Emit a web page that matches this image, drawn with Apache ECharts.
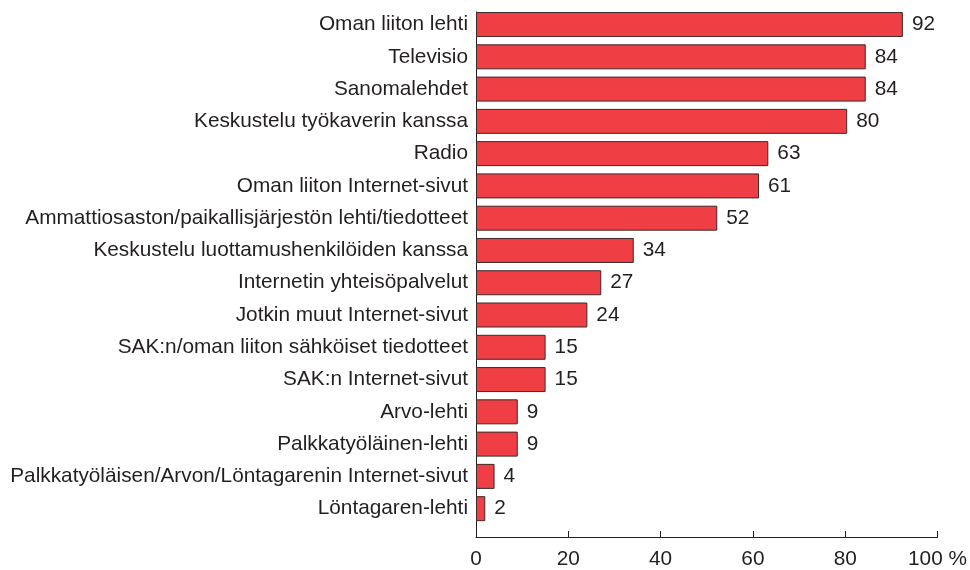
<!DOCTYPE html>
<html>
<head>
<meta charset="utf-8">
<script src="https://cdn.jsdelivr.net/npm/echarts@6/dist/echarts.min.js"></script>
<style>
  html, body { margin: 0; padding: 0; background: #fff; }
  #chart { width: 970px; height: 570px; }
</style>
</head>
<body>
<div id="chart"></div>
<script>
// categories top to bottom
var categories = [
    'Oman liiton lehti',
    'Televisio',
    'Sanomalehdet',
    'Keskustelu työkaverin kanssa',
    'Radio',
    'Oman liiton Internet-sivut',
    'Ammattiosaston/paikallisjärjestön lehti/tiedotteet',
    'Keskustelu luottamushenkilöiden kanssa',
    'Internetin yhteisöpalvelut',
    'Jotkin muut Internet-sivut',
    'SAK:n/oman liiton sähköiset tiedotteet',
    'SAK:n Internet-sivut',
    'Arvo-lehti',
    'Palkkatyöläinen-lehti',
    'Palkkatyöläisen/Arvon/Löntagarenin Internet-sivut',
    'Löntagaren-lehti'
];
var values = [92, 84, 84, 80, 63, 61, 52, 34, 27, 24, 15, 15, 9, 9, 4, 2];
var xTicks = [0, 20, 40, 60, 80, 100];

var font = '"Liberation Sans", Arial, sans-serif';
var textColor = '#231f20';
var fs = 20.8;

var chart = echarts.init(document.getElementById('chart'));
var option = {
    animation: false,
    textStyle: { fontFamily: font },
    grid: [
        // bars
        { left: 476, right: 30, top: 8.4, bottom: 45.2 },
        // axis frame
        { left: 476, right: 30, top: 12, bottom: 32 }
    ],
    xAxis: [
        { gridIndex: 0, type: 'value', min: 0, max: 100, show: false },
        {
            gridIndex: 1,
            type: 'value',
            min: xTicks[0],
            max: xTicks[xTicks.length - 1],
            interval: 20,
            axisLine: { show: true, lineStyle: { color: textColor, width: 1 } },
            axisTick: { show: true, inside: true, length: 6, lineStyle: { color: textColor } },
            splitLine: { show: false },
            axisLabel: {
                margin: 12,
                fontSize: fs,
                color: textColor,
                fontFamily: font,
                formatter: function (v) {
                    return v === 100 ? '100 %' : String(v);
                }
            }
        }
    ],
    yAxis: [
        {
            gridIndex: 0,
            type: 'category',
            inverse: true,
            data: categories,
            axisLine: { show: false },
            axisTick: { show: false },
            axisLabel: { margin: 8, fontSize: fs, color: textColor, fontFamily: font }
        },
        {
            gridIndex: 1,
            type: 'value',
            min: 0,
            max: 1,
            axisLine: { show: true, lineStyle: { color: textColor, width: 1 } },
            axisTick: { show: false },
            axisLabel: { show: false },
            splitLine: { show: false }
        }
    ],
    series: [
        {
            type: 'bar',
            xAxisIndex: 0,
            yAxisIndex: 0,
            data: values,
            barWidth: 25,
            itemStyle: {
                color: '#ef3e44',
                borderColor: '#3a2a2a',
                borderWidth: 1
            },
            label: {
                show: true,
                position: 'right',
                distance: 9,
                fontSize: fs,
                color: textColor,
                fontFamily: font
            }
        }
    ]
};
chart.setOption(option);
</script>
</body>
</html>
